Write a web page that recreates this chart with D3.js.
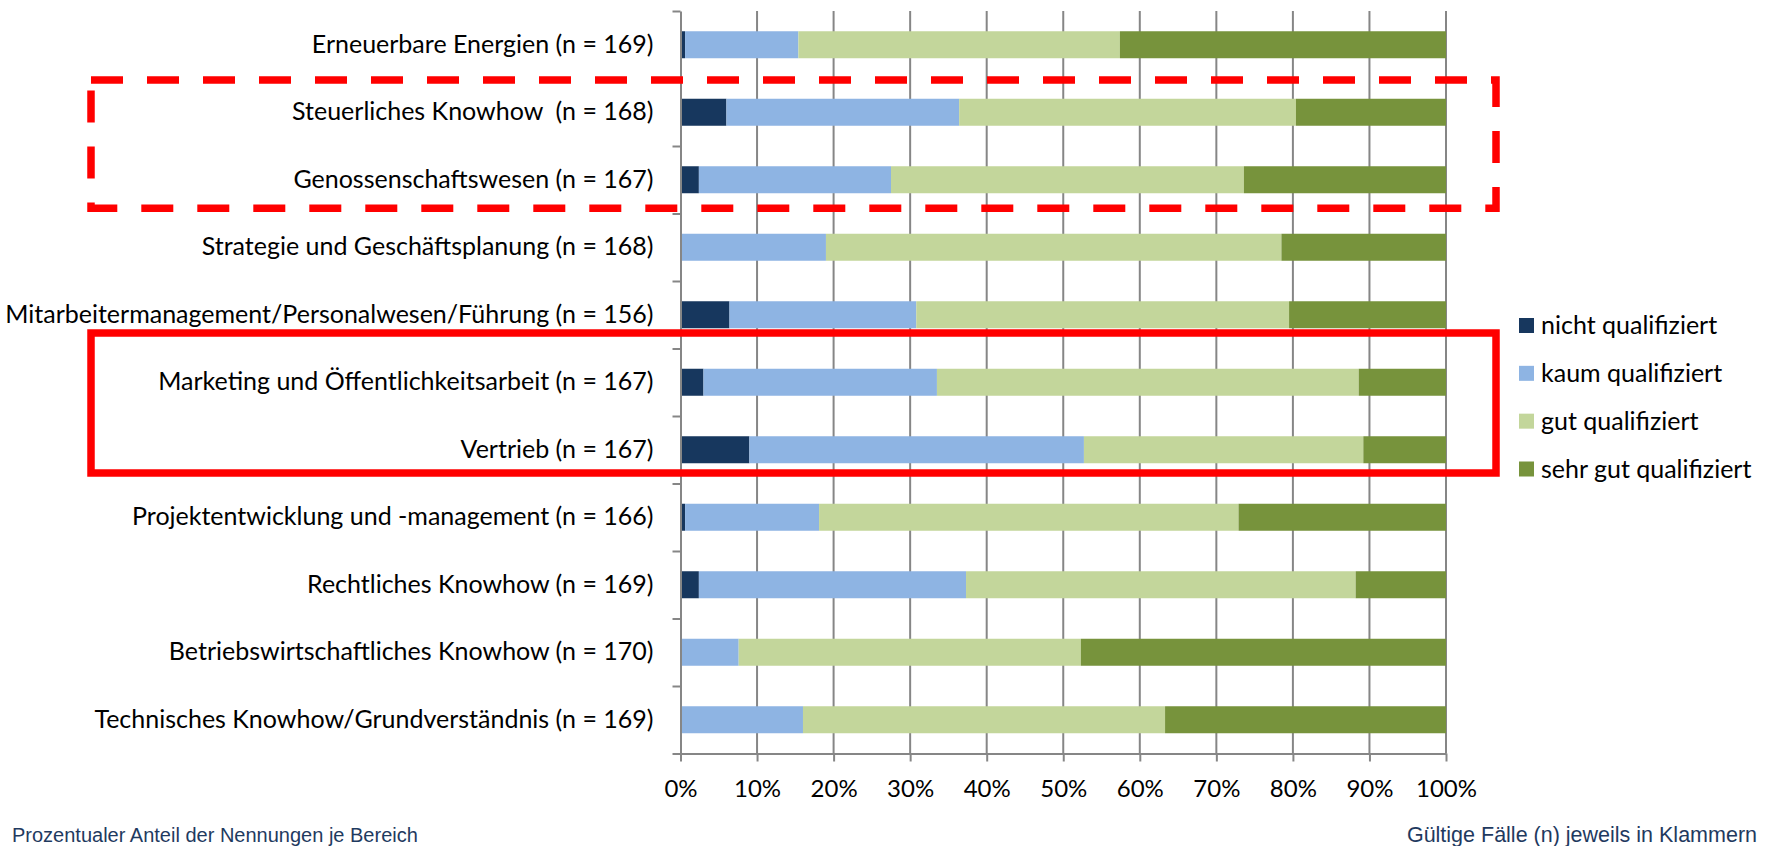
<!DOCTYPE html>
<html>
<head>
<meta charset="utf-8">
<script src="https://cdn.jsdelivr.net/npm/d3@7"></script>
<style>
  html, body { margin: 0; padding: 0; background: #ffffff; }
  svg { display: block; }
  text { white-space: pre; }
</style>
</head>
<body>
<svg id="chart" width="1769" height="846"></svg>
<script>
// Kompetenzbereiche (von oben nach unten)
const categories = [
  "Erneuerbare Energien (n = 169)",
  "Steuerliches Knowhow  (n = 168)",
  "Genossenschaftswesen (n = 167)",
  "Strategie und Geschäftsplanung (n = 168)",
  "Mitarbeitermanagement/Personalwesen/Führung (n = 156)",
  "Marketing und Öffentlichkeitsarbeit (n = 167)",
  "Vertrieb (n = 167)",
  "Projektentwicklung und -management (n = 166)",
  "Rechtliches Knowhow (n = 169)",
  "Betriebswirtschaftliches Knowhow (n = 170)",
  "Technisches Knowhow/Grundverständnis (n = 169)"
];

// Anteile in Prozent je Bereich
const nichtQualifiziert   = [0.6, 6.0, 2.4, 0.0, 6.4, 3.0, 9.0, 0.6, 2.4, 0.0, 0.0];
const kaumQualifiziert    = [14.8, 30.4, 25.1, 19.0, 24.4, 30.5, 43.7, 17.5, 34.9, 7.6, 16.0];
const gutQualifiziert     = [42.0, 44.0, 46.1, 59.5, 48.7, 55.1, 36.5, 54.8, 50.9, 44.7, 47.3];
const sehrGutQualifiziert = [42.6, 19.6, 26.4, 21.5, 20.5, 11.4, 10.8, 27.1, 11.8, 47.7, 36.7];

const seriesNames = ["nicht qualifiziert", "kaum qualifiziert", "gut qualifiziert", "sehr gut qualifiziert"];
const seriesColors = ["#17375E", "#8EB4E3", "#C3D69B", "#77933C"];
const tickValues = [0, 10, 20, 30, 40, 50, 60, 70, 80, 90, 100];

const footerLeft = "Prozentualer Anteil der Nennungen je Bereich";
const footerRight = "Gültige Fälle (n) jeweils in Klammern";

// Tabelle für d3.stack
const table = categories.map((c, i) => ({
  category: c,
  [seriesNames[0]]: nichtQualifiziert[i],
  [seriesNames[1]]: kaumQualifiziert[i],
  [seriesNames[2]]: gutQualifiziert[i],
  [seriesNames[3]]: sehrGutQualifiziert[i]
}));

const svg = d3.select("#chart");
const labelFont = "Lato, 'Open Sans', sans-serif";
const labelSize = 25;
const tickSize = 24;
const axisColor = "#868686";

const plot = { left: 680.5, right: 1446, top: 11, bottom: 753.5 };

const x = d3.scaleLinear().domain([0, 100]).range([plot.left, plot.right]);
const y = d3.scaleBand().domain(categories).range([plot.top, plot.bottom])
  .paddingInner(0.6).paddingOuter(0.3);
const color = d3.scaleOrdinal().domain(seriesNames).range(seriesColors);

// Vertikale Gitternetzlinien
svg.append("g")
  .selectAll("line")
  .data(tickValues.slice(1))
  .join("line")
  .attr("x1", d => x(d)).attr("x2", d => x(d))
  .attr("y1", plot.top).attr("y2", plot.bottom)
  .attr("stroke", axisColor).attr("stroke-width", 2);

// Gestapelte Balken
const stacked = d3.stack().keys(seriesNames)(table);
svg.append("g")
  .selectAll("g")
  .data(stacked)
  .join("g")
  .attr("fill", d => color(d.key))
  .selectAll("rect")
  .data(d => d)
  .join("rect")
  .attr("x", d => x(d[0]))
  .attr("width", d => Math.max(0, x(d[1]) - x(d[0])))
  .attr("y", d => y(d.data.category))
  .attr("height", y.bandwidth());

// X-Achse
const xAxis = svg.append("g")
  .attr("transform", `translate(0,${plot.bottom})`)
  .call(d3.axisBottom(x).tickValues(tickValues).tickFormat(d => d + "%").tickSize(8).tickSizeOuter(0).tickPadding(18));
xAxis.select(".domain").attr("stroke", axisColor).attr("stroke-width", 2);
xAxis.selectAll(".tick line").attr("stroke", axisColor).attr("stroke-width", 2);
xAxis.selectAll(".tick text")
  .attr("font-family", labelFont).attr("font-size", tickSize).attr("fill", "#000");

// Y-Achse: Teilstriche zwischen den Kategorien
const yBounds = d3.scaleLinear().domain([0, categories.length]).range([plot.top, plot.bottom]);
const yAxis = svg.append("g")
  .attr("transform", `translate(${plot.left},0)`)
  .call(d3.axisLeft(yBounds).tickValues(d3.range(categories.length + 1)).tickFormat("").tickSize(8).tickSizeOuter(0));
yAxis.select(".domain").attr("stroke", axisColor).attr("stroke-width", 2);
yAxis.selectAll(".tick line").attr("stroke", axisColor).attr("stroke-width", 2);

// Kategoriebeschriftungen
const yLabels = svg.append("g")
  .attr("transform", `translate(${plot.left},0)`)
  .call(d3.axisLeft(y).tickSize(0).tickPadding(27));
yLabels.select(".domain").remove();
yLabels.selectAll(".tick text")
  .attr("font-family", labelFont).attr("font-size", labelSize).attr("fill", "#000");

// Legende
const legend = svg.append("g").attr("transform", "translate(1519,0)");
const legendY = d3.scalePoint().domain(seriesNames).range([325.5, 469]);
const item = legend.selectAll("g").data(seriesNames).join("g")
  .attr("transform", d => `translate(0,${legendY(d)})`);
item.append("rect").attr("x", 0).attr("y", -7.5).attr("width", 15).attr("height", 15)
  .attr("fill", d => color(d));
item.append("text").attr("x", 22).attr("dy", "0.35em")
  .attr("font-family", labelFont).attr("font-size", labelSize).attr("fill", "#000")
  .text(d => d);

// Hervorhebungen
svg.append("rect")
  .attr("x", 91).attr("y", 80).attr("width", 1496 - 91).attr("height", 208.3 - 80)
  .attr("fill", "none").attr("stroke", "#FF0000").attr("stroke-width", 7.5)
  .attr("stroke-dasharray", "32 24");
svg.append("rect")
  .attr("x", 91).attr("y", 333).attr("width", 1496 - 91).attr("height", 473 - 333)
  .attr("fill", "none").attr("stroke", "#FF0000").attr("stroke-width", 7.5);

// Fußzeilen
svg.append("text").attr("x", 12).attr("y", 842)
  .attr("font-family", "'Liberation Sans', Arial, sans-serif").attr("font-size", 20)
  .attr("fill", "#1F3A5F").text(footerLeft);
svg.append("text").attr("x", 1757).attr("y", 842).attr("text-anchor", "end")
  .attr("font-family", "'Liberation Sans', Arial, sans-serif").attr("font-size", 21.5)
  .attr("fill", "#1F3A5F").text(footerRight);
</script>
</body>
</html>
